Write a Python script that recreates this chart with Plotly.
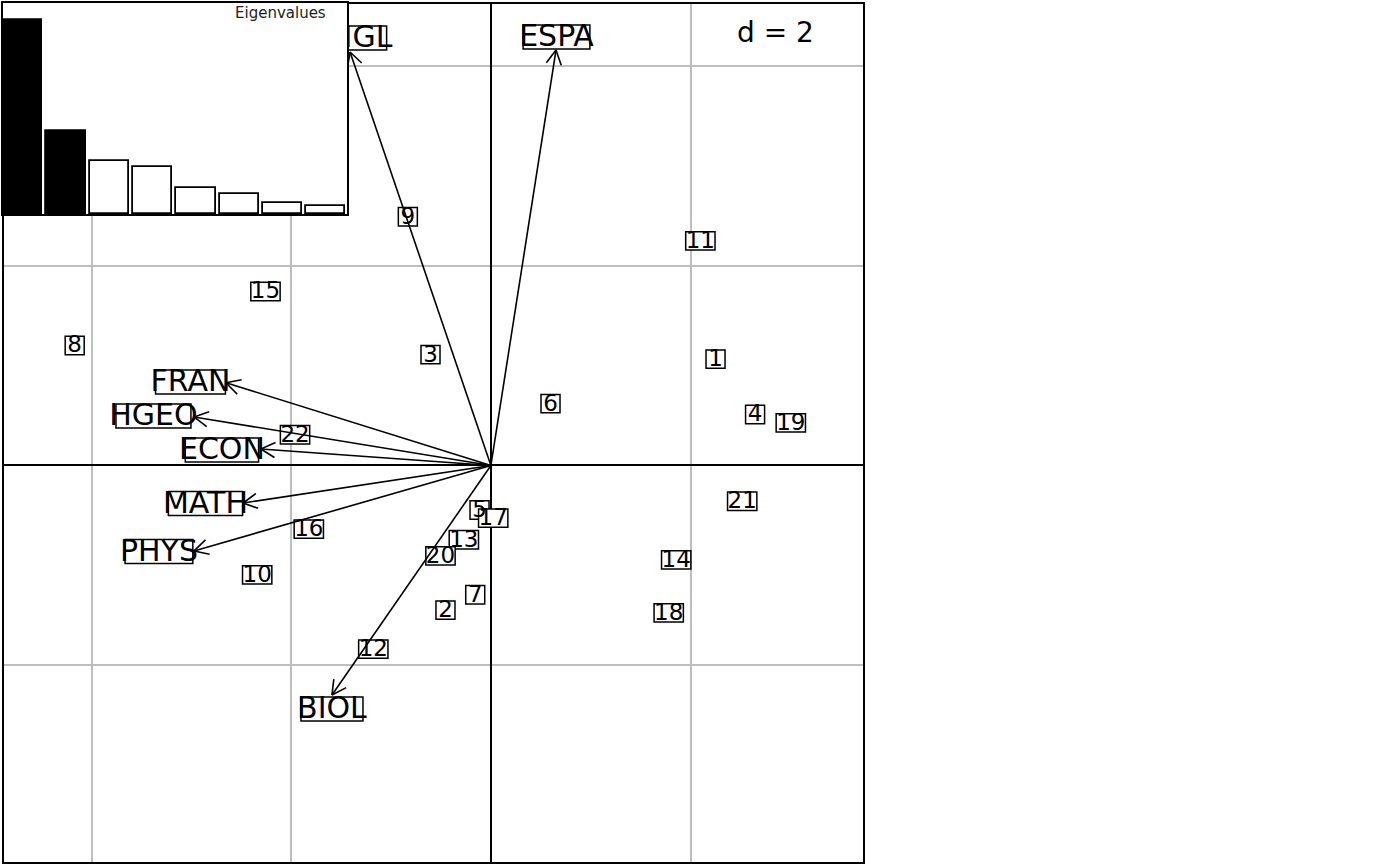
import math
import plotly.graph_objects as go

# ---------------- data ----------------
row_names = [str(i) for i in range(1, 23)]
pt_x = [2.250, -0.455, -0.605, 2.646, -0.114, 0.597, -0.157, -4.169, -0.832, -2.341, 2.098,
        -1.178, -0.271, 1.856, -2.258, -1.824, 0.023, 1.781, 3.004, -0.505, 2.517, -1.962]
pt_y = [1.065, -1.449, 1.110, 0.511, -0.446, 0.619, -1.295, 1.202, 2.492, -1.095, 2.251,
        -1.840, -0.744, -0.945, 1.743, -0.638, -0.528, -1.476, 0.426, -0.905, -0.358, 0.308]

var_names = ["ANGL", "ESPA", "FRAN", "HGEO", "ECON", "MATH", "PHYS", "BIOL"]
tip_x = [-1.411, 0.652, -2.654, -2.974, -2.304, -2.483, -2.974, -1.592]
tip_y = [4.142, 4.162, 0.829, 0.486, 0.165, -0.376, -0.856, -2.299]
lab_x = [-1.401, 0.657, -3.009, -3.380, -2.694, -2.859, -3.325, -1.592]
lab_y = [4.283, 4.293, 0.836, 0.496, 0.155, -0.381, -0.861, -2.439]

eigenvalues = [3.514, 1.498, 0.956, 0.854, 0.475, 0.366, 0.199, 0.139]
n_kept = 2
grid_step = 2

# ---------------- layout geometry ----------------
W, H = 1400, 866
XR = [-4.877, 3.727]
YR = [-3.972, 4.623]
PX = 1 / 99.83  # data units per pixel

FONT = "DejaVu Sans"
DV = {"A": .684, "B": .686, "C": .698, "E": .632, "F": .575, "G": .775, "H": .752,
      "I": .295, "L": .557, "M": .863, "N": .748, "O": .787, "P": .603, "R": .695,
      "S": .635, "T": .611, "Y": .611}


def em_width(s):
    return sum(DV.get(c, 0.636) for c in s)


fig = go.Figure()
shapes = []

# boxes for row labels
for x, y, s in zip(pt_x, pt_y, row_names):
    w = (16.2 * em_width(s) + 8.7) * PX
    h = 18.3 * PX
    shapes.append(dict(type="rect", xref="x", yref="y", layer="between",
                       x0=x - w / 2, x1=x + w / 2, y0=y - h / 2, y1=y + h / 2,
                       fillcolor="white", line=dict(color="black", width=1.5)))
# boxes for variable labels
for x, y, s in zip(lab_x, lab_y, var_names):
    w = (20.9 * em_width(s) + 13.4) * PX
    h = 24 * PX
    shapes.append(dict(type="rect", xref="x", yref="y", layer="between",
                       x0=x - w / 2, x1=x + w / 2, y0=y - h / 2, y1=y + h / 2,
                       fillcolor="white", line=dict(color="black", width=1.5)))

fig.add_trace(go.Scatter(x=pt_x, y=[v - 1.2 * PX for v in pt_y], text=row_names, mode="text",
                         textposition="middle center",
                         textfont=dict(family=FONT, size=23, color="black"),
                         hoverinfo="skip", showlegend=False))

# arrows
ax, ay = [], []
L = 16 * PX
ang = math.radians(28)
for tx, ty in zip(tip_x, tip_y):
    ax += [0, tx, None]
    ay += [0, ty, None]
    n = math.hypot(tx, ty)
    dx, dy = tx / n, ty / n
    for sgn in (1, -1):
        c, s_ = math.cos(sgn * ang), math.sin(sgn * ang)
        rx = dx * c - dy * s_
        ry = dx * s_ + dy * c
        ax += [tx, tx - L * rx, None]
        ay += [ty, ty - L * ry, None]
fig.add_trace(go.Scatter(x=ax, y=ay, mode="lines", line=dict(color="black", width=1.6),
                         hoverinfo="skip", showlegend=False))

fig.add_trace(go.Scatter(x=lab_x, y=[v - 1.8 * PX for v in lab_y], text=var_names, mode="text",
                         textposition="middle center",
                         textfont=dict(family=FONT, size=30, color="black"),
                         hoverinfo="skip", showlegend=False))

# eigenvalue inset
fig.add_trace(go.Bar(x=list(range(1, len(eigenvalues) + 1)), y=eigenvalues, width=0.908,
                     marker=dict(color=["black" if i < n_kept else "white"
                                        for i in range(len(eigenvalues))],
                                 line=dict(color="black", width=1.8)),
                     xaxis="x2", yaxis="y2", hoverinfo="skip", showlegend=False))

fig.update_layout(
    width=W, height=H, margin=dict(l=0, r=0, t=0, b=0),
    paper_bgcolor="white", plot_bgcolor="white",
    xaxis=dict(domain=[4 / W, 863 / W], range=XR, dtick=grid_step, tick0=0,
               showgrid=True, gridcolor="#BEBEBE", gridwidth=1.6,
               zeroline=True, zerolinecolor="black", zerolinewidth=1.8,
               showline=True, mirror=True, linecolor="black", linewidth=1.8,
               showticklabels=False, ticks="", fixedrange=True),
    yaxis=dict(domain=[1 - 862 / H, 1 - 4 / H], range=YR, dtick=grid_step, tick0=0,
               showgrid=True, gridcolor="#BEBEBE", gridwidth=1.6,
               zeroline=True, zerolinecolor="black", zerolinewidth=1.8,
               showline=True, mirror=True, linecolor="black", linewidth=1.8,
               showticklabels=False, ticks="", fixedrange=True),
    xaxis2=dict(domain=[3 / W, 347 / W], range=[0.546, 8.49], anchor="y2",
                showgrid=False, zeroline=False, showticklabels=False, ticks="",
                showline=True, mirror=True, linecolor="black", linewidth=1.8),
    yaxis2=dict(domain=[1 - 214 / H, 1 - 3 / H], range=[0, 3.826], anchor="x2",
                showgrid=False, zeroline=False, showticklabels=False, ticks="",
                showline=True, mirror=True, linecolor="black", linewidth=1.8),
    shapes=shapes,
    annotations=[
        dict(text="d = 2", xref="paper", yref="paper", x=775 / W, y=1 - 33 / H,
             xanchor="center", yanchor="middle", showarrow=False,
             font=dict(family=FONT, size=28, color="black")),
        dict(text="Eigenvalues", xref="paper", yref="paper", x=280 / W, y=1 - 13 / H,
             xanchor="center", yanchor="middle", showarrow=False,
             font=dict(family=FONT, size=15, color="#222222")),
    ],
    bargap=0,
)

fig.write_html("out.html")
